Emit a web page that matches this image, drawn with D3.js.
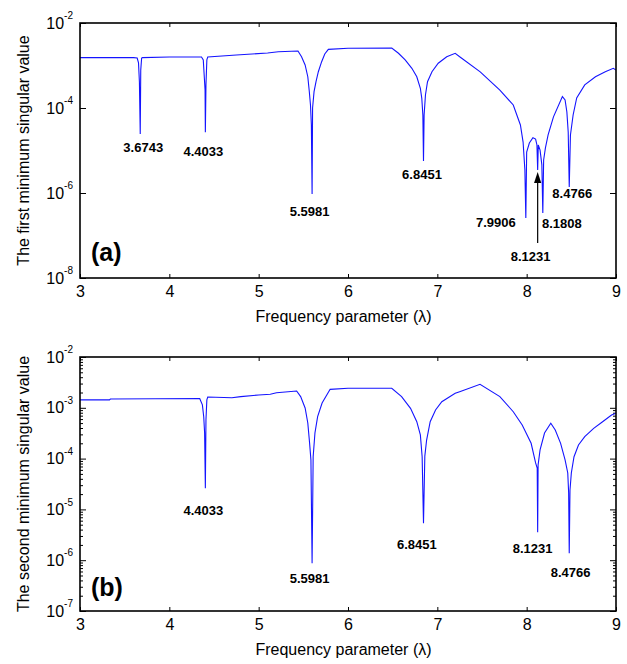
<!DOCTYPE html>
<html><head><meta charset="utf-8">
<script src="https://cdn.jsdelivr.net/npm/d3@7"></script>
<style>
body{margin:0;background:#fff}
svg{display:block}
text{font-family:"Liberation Sans",Arial,Helvetica,sans-serif;fill:#000}
</style>
</head><body><svg id="c" width="627" height="664"></svg>
<script>
// ---------- data ----------
const xTicks = [3, 4, 5, 6, 7, 8, 9];
const yTicksA = [1e-2, 1e-4, 1e-6, 1e-8];
const yTicksB = [1e-2, 1e-3, 1e-4, 1e-5, 1e-6, 1e-7];

const lambdaA = [3.00, 3.60, 3.64, 3.655, 3.665, 3.6743, 3.68, 3.69, 3.70, 4.00, 4.36, 4.38, 4.39, 4.40, 4.4033, 4.41, 4.42, 4.43, 4.75, 5.10, 5.22,
  5.44, 5.48, 5.52, 5.55, 5.567, 5.58, 5.59, 5.5981, 5.6035, 5.62, 5.642, 5.668, 5.705, 5.74, 5.78, 6.00, 6.49, 6.565, 6.64, 6.715, 6.77, 6.81, 6.826, 6.838, 6.8451, 6.852, 6.867, 6.89, 6.94, 7.01, 7.105, 7.20,
  7.25, 7.48, 7.70, 7.85, 7.93, 7.96, 7.98, 7.9906, 8.00, 8.03, 8.07, 8.10, 8.115, 8.1231, 8.13, 8.15, 8.17, 8.1808, 8.19, 8.21, 8.24, 8.30, 8.40, 8.43, 8.45, 8.465, 8.4766, 8.49, 8.52, 8.56, 8.65, 8.77, 8.88, 8.97, 9.00];
const sigmaA = [1.53e-3, 1.53e-3, 1.50e-3, 1.15e-3, 4.1e-4, 2.44e-5, 7.8e-4, 1.5e-3, 1.53e-3, 1.58e-3, 1.58e-3, 1.35e-3, 6.0e-4, 2.65e-4, 2.68e-5, 3.5e-4, 1.35e-3, 1.58e-3, 1.77e-3, 1.97e-3, 2.11e-3,
  2.19e-3, 1.61e-3, 1.03e-3, 5.44e-4, 2.42e-4, 1.18e-4, 3.98e-5, 9.5e-7, 1.0e-4, 2.42e-4, 4.16e-4, 7.14e-4, 1.23e-3, 1.87e-3, 2.40e-3, 2.54e-3, 2.58e-3, 1.94e-3, 1.35e-3, 8.59e-4, 5.44e-4, 2.91e-4, 1.69e-4, 6.84e-5, 5.66e-6, 6.84e-5, 2.02e-4, 4.16e-4, 7.14e-4, 1.13e-3, 1.61e-3, 1.94e-3,
  1.61e-3, 7.1e-4, 2.65e-4, 1.18e-4, 3.98e-5, 1.58e-5, 3.5e-6, 2.58e-7, 9.2e-6, 1.5e-5, 2.0e-5, 1.86e-5, 1.35e-5, 3.47e-6, 1.35e-5, 1.02e-5, 4.6e-6, 3.39e-7, 6.0e-6, 1.15e-5, 2.32e-5, 6.2e-5, 1.85e-4, 1.55e-4, 8.05e-5, 2.72e-5, 1.38e-6, 2.32e-5, 6.84e-5, 1.72e-4, 3.5e-4, 5.45e-4, 7.1e-4, 8.6e-4, 7.8e-4];

const lambdaB = [3.00, 3.33, 3.34, 4.34, 4.37, 4.385, 4.395, 4.4033, 4.41, 4.42, 4.43, 4.70, 4.80, 5.00, 5.13, 5.20, 5.425, 5.47, 5.52, 5.55, 5.57, 5.585, 5.5981, 5.61, 5.63, 5.66, 5.71, 5.80, 6.00, 6.49, 6.60, 6.70, 6.77, 6.81, 6.83, 6.8451, 6.86, 6.88, 6.92, 6.98, 7.05, 7.20, 7.25, 7.478, 7.70, 7.85, 7.95, 8.05, 8.10, 8.118, 8.1231, 8.128, 8.15, 8.20, 8.27, 8.32, 8.38, 8.43, 8.46, 8.47, 8.4766, 8.485, 8.50, 8.53, 8.58, 8.65, 8.75, 8.85, 8.95, 9.00];
const sigmaB = [1.43e-3, 1.43e-3, 1.49e-3, 1.52e-3, 1.14e-3, 6.68e-4, 3.19e-4, 2.60e-5, 5.75e-4, 1.43e-3, 1.63e-3, 1.58e-3, 1.66e-3, 1.79e-3, 1.85e-3, 1.98e-3, 2.14e-3, 1.66e-3, 9.9e-4, 5.02e-4, 2.03e-4, 9.4e-5, 8.7e-7, 1.09e-4, 3.19e-4, 6.68e-4, 1.24e-3, 2.31e-3, 2.42e-3, 2.42e-3, 1.66e-3, 9.77e-4, 5.32e-4, 2.92e-4, 1.09e-4, 5.32e-6, 1.12e-4, 2.32e-4, 5.32e-4, 9.06e-4, 1.32e-3, 1.93e-3, 2.07e-3, 2.90e-3, 1.66e-3, 8.37e-4, 4.58e-4, 2.0e-4, 8.2e-5, 6.53e-5, 3.54e-6, 7.5e-5, 1.48e-4, 3.19e-4, 4.95e-4, 3.66e-4, 2.0e-4, 9.4e-5, 5.21e-5, 2.1e-5, 1.37e-6, 2.41e-5, 5.21e-5, 1.09e-4, 1.85e-4, 2.70e-4, 3.94e-4, 5.32e-4, 7.21e-4, 7.8e-4];

const minimaA = [3.6743, 4.4033, 5.5981, 6.8451, 7.9906, 8.1231, 8.1808, 8.4766];
const minimaB = [4.4033, 5.5981, 6.8451, 8.1231, 8.4766];

// ---------- layout ----------
const svg = d3.select("#c");
const L = 80, R = 616;

function panel(cfg) {
  const x = d3.scaleLinear().domain([3, 9]).range([L, R]);
  const y = d3.scaleLog().domain(cfg.yDomain).range([cfg.bottom, cfg.top]);
  const g = svg.append("g");

  const clipId = "clip" + cfg.id;
  svg.append("clipPath").attr("id", clipId).append("rect")
    .attr("x", L).attr("y", cfg.top).attr("width", R - L).attr("height", cfg.bottom - cfg.top);

  const ax = (sel) => { sel.select(".domain").remove(); sel.selectAll("line").attr("stroke", "#000").attr("stroke-width", 1); };
  g.append("g").attr("transform", `translate(0,${cfg.bottom})`)
    .call(d3.axisBottom(x).tickValues(xTicks).tickSizeInner(-4).tickSizeOuter(0).tickPadding(8).tickFormat(d3.format("d")))
    .call(ax).selectAll("text").attr("font-size", 16).attr("font-family", "Liberation Sans, Arial, sans-serif");
  g.append("g").attr("transform", `translate(0,${cfg.top})`)
    .call(d3.axisTop(x).tickValues(xTicks).tickSizeInner(-4).tickSizeOuter(0).tickFormat(""))
    .call(ax);

  const left = g.append("g").attr("transform", `translate(${L},0)`)
    .call(d3.axisLeft(y).tickValues(cfg.yTicks).tickSizeInner(-6).tickSizeOuter(0).tickPadding(7).tickFormat(() => ""))
    .call(ax);
  left.selectAll(".tick text").each(function (d) {
    const t = d3.select(this).attr("font-size", 16).attr("font-family", "Liberation Sans, Arial, sans-serif");
    t.append("tspan").text("10");
    t.append("tspan").attr("font-size", 10).attr("dy", "-0.95em").text(String(Math.round(Math.log10(d))));
  });
  g.append("g").attr("transform", `translate(${R},0)`)
    .call(d3.axisRight(y).tickValues(cfg.yTicks).tickSizeInner(-6).tickSizeOuter(0).tickFormat(""))
    .call(ax);

  if (cfg.minor) {
    const minor = [];
    const e0 = Math.round(Math.log10(cfg.yDomain[0])), e1 = Math.round(Math.log10(cfg.yDomain[1]));
    for (let e = e0; e < e1; e++) for (let m = 2; m <= 9; m++) minor.push(m * Math.pow(10, e));
    g.append("g").attr("transform", `translate(${L},0)`)
      .call(d3.axisLeft(y).tickValues(minor).tickSizeInner(-3).tickSizeOuter(0).tickFormat("")).call(ax);
    g.append("g").attr("transform", `translate(${R},0)`)
      .call(d3.axisRight(y).tickValues(minor).tickSizeInner(-3).tickSizeOuter(0).tickFormat("")).call(ax);
  }

  const pts = cfg.lambda.map((l, i) => [l, cfg.sigma[i]]);
  g.append("path").datum(pts)
    .attr("clip-path", `url(#${clipId})`)
    .attr("fill", "none").attr("stroke", "#1414ff").attr("stroke-width", 1.1)
    .attr("d", d3.line().x(d => x(d[0])).y(d => y(d[1])));

  g.append("rect").attr("x", L).attr("y", cfg.top).attr("width", R - L).attr("height", cfg.bottom - cfg.top)
    .attr("fill", "none").attr("stroke", "#000").attr("stroke-width", 1.6);

  cfg.minima.forEach((m, i) => {
    const idx = cfg.lambda.indexOf(m);
    const px = x(m), py = y(cfg.sigma[idx]);
    const off = cfg.offsets[i];
    g.append("text").attr("x", px + off[0]).attr("y", py + off[1])
      .attr("text-anchor", "middle").attr("font-size", 13).attr("font-weight", "bold")
      .text(d3.format(".4f")(m));
    if (off[2]) {
      g.append("line").attr("x1", px).attr("x2", px).attr("y1", py + off[1] - 18).attr("y2", py + 12)
        .attr("stroke", "#000").attr("stroke-width", 1.2);
      g.append("path").attr("d", `M${px},${py + 2}L${px - 3.6},${py + 13}L${px + 3.6},${py + 13}Z`).attr("fill", "#000");
    }
  });

  g.append("text").attr("transform", `translate(29,${(cfg.top + cfg.bottom) / 2}) rotate(-90)`)
    .attr("text-anchor", "middle").attr("font-size", 16).text(cfg.ylabel);
  g.append("text").attr("x", 343.5).attr("y", cfg.bottom + 44).attr("text-anchor", "middle")
    .attr("font-size", 16).text("Frequency parameter (\u03bb)");
  g.append("text").attr("x", 91).attr("y", cfg.tagY).attr("font-size", 25).attr("font-weight", "bold").text(cfg.tag);
}

panel({
  id: "a", top: 23, bottom: 278, yDomain: [1e-8, 1e-2], yTicks: yTicksA, minor: false,
  lambda: lambdaA, sigma: sigmaA, minima: minimaA,
  offsets: [[3, 18], [-2, 24], [-2.5, 22], [-1.5, 18], [-30, 9], [-7, 91, true], [19, 15], [3, 11]],
  ylabel: "The first minimum singular value", tag: "(a)", tagY: 261
});
panel({
  id: "b", top: 357, bottom: 611, yDomain: [1e-7, 1e-2], yTicks: yTicksB, minor: true,
  lambda: lambdaB, sigma: sigmaB, minima: minimaB,
  offsets: [[-2, 27], [-2.5, 20], [-6.6, 26], [-5, 21], [1.3, 24]],
  ylabel: "The second minimum singular value", tag: "(b)", tagY: 596
});
</script></body></html>
